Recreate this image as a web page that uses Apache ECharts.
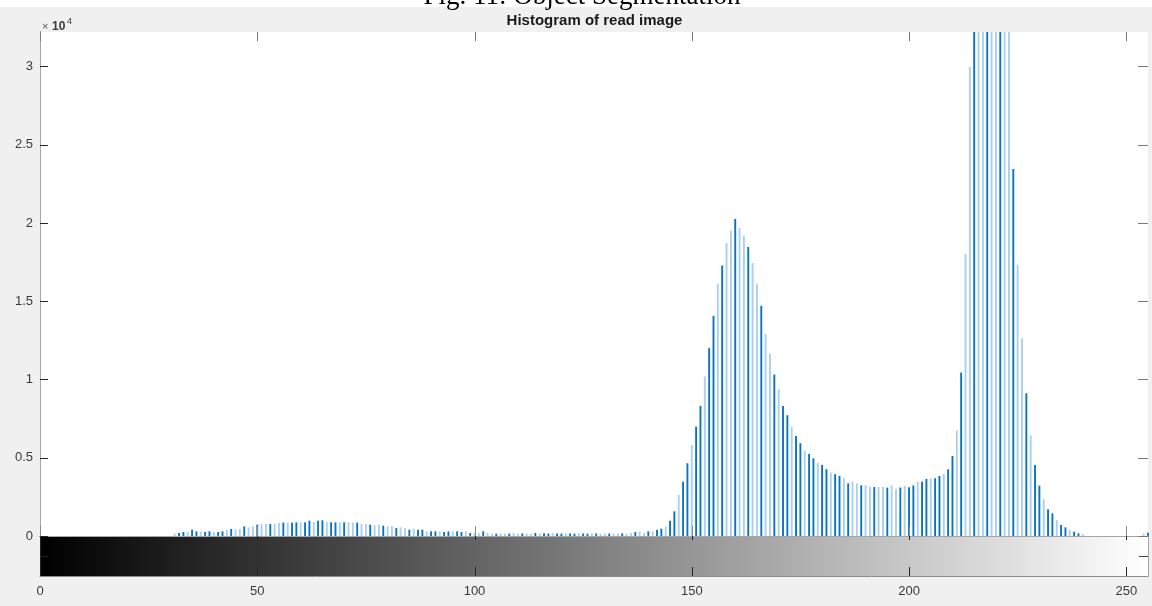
<!DOCTYPE html>
<html>
<head>
<meta charset="utf-8">
<title>Histogram of read image</title>
<script src="https://cdn.jsdelivr.net/npm/echarts@6/dist/echarts.min.js"></script>
<style>
  html, body { margin: 0; padding: 0; background: #f0f0f0; }
  #chart { width: 1152px; height: 606px; }
</style>
</head>
<body>
<div id="chart"></div>
<script>
// pixel counts per grey level
// levels 0..63
var countsLevel0 = [
  0, 0, 0, 0, 0, 0, 0, 0, 0, 0,
  0, 0, 0, 0, 0, 0, 0, 0, 0, 0,
  0, 0, 0, 0, 0, 0, 0, 0, 0, 0,
  0, 149, 192, 256, 256, 405, 298, 298, 256, 298,
  256, 256, 298, 405, 448, 405, 448, 618, 554, 618,
  725, 767, 767, 767, 767, 831, 853, 853, 853, 874,
  874, 874, 980, 895
];
// levels 64..127
var countsLevel64 = [
  980, 1002, 895, 874, 874, 874, 874, 874, 853, 853,
  767, 767, 725, 682, 725, 661, 618, 618, 511, 554,
  511, 405, 469, 405, 405, 298, 298, 298, 298, 256,
  298, 298, 298, 256, 298, 192, 205, 192, 298, 192,
  149, 149, 160, 149, 155, 192, 149, 160, 170, 150,
  192, 160, 170, 150, 180, 160, 150, 170, 160, 150,
  170, 160, 150, 175
];
// levels 128..191
var countsLevel128 = [
  160, 150, 170, 155, 165, 150, 170, 149, 192, 256,
  298, 192, 298, 298, 405, 469, 618, 980, 1577, 2621,
  3472, 4648, 5818, 6990, 8312, 10188, 12000, 14067, 16113, 17285,
  18713, 19523, 20248, 19672, 19203, 18457, 17434, 16113, 14706, 12916,
  11637, 10316, 9378, 8312, 7714, 6990, 6394, 5925, 5456, 5243,
  4966, 4680, 4540, 4270, 4060, 3950, 3836, 3688, 3367, 3474,
  3367, 3240, 3240, 3133
];
// levels 192..255 (215..223 run past the top of the axes)
var countsLevel192 = [
  3133, 3133, 3133, 3090, 3240, 3005, 3100, 3210, 3120, 3230,
  3474, 3474, 3645, 3688, 3688, 3836, 3964, 4263, 5115, 6735,
  10444, 18031, 29966, 38000, 43000, 46000, 47000, 45000, 43000, 40000,
  37000, 33500, 23445, 17328, 12640, 9122, 6437, 4540, 3218, 2344,
  1705, 1449, 1023, 703, 554, 384, 277, 170, 128, 0,
  0, 0, 0, 0, 0, 0, 0, 0, 0, 0,
  0, 0, 150, 200
];

var greyRange = [0, 255];
var countMax = 32200;
var xTickValues = [0, 50, 100, 150, 200, 250];
var yTickValues = [0, 5000, 10000, 15000, 20000, 25000, 30000];
var barTickValues = [0.5];

var counts = countsLevel0.concat(countsLevel64, countsLevel128, countsLevel192);
var histData = counts.map(function (c, i) { return [i, c]; });

var chart = echarts.init(document.getElementById('chart'));

var tickFont = { fontFamily: 'Liberation Sans, Arial, sans-serif', fontSize: 13, color: '#3a3a3a' };

// short tick marks pointing into a box (MATLAB style), drawn through the axis scales
function tickSeries(xi, yi, values, side, at, len, color) {
  return {
    type: 'custom', xAxisIndex: xi, yAxisIndex: yi, z: 6, silent: true, clip: false,
    data: values.map(function (v) { return [v]; }),
    renderItem: function (params, api) {
      var v = api.value(0);
      var vertical = side === 'bottom' || side === 'top';
      var p = vertical ? api.coord([v, at]) : api.coord([at, v]);
      var x = vertical ? Math.round(p[0]) + 0.5 : p[0];
      var y = vertical ? p[1] : Math.round(p[1]) + 0.5;
      var dx = side === 'left' ? len : side === 'right' ? -len : 0;
      var dy = side === 'bottom' ? -len : side === 'top' ? len : 0;
      return {
        type: 'line',
        shape: { x1: x, y1: y, x2: x + dx, y2: y + dy },
        style: { stroke: color, lineWidth: 1 }
      };
    }
  };
}

function plainAxis(gridIndex, min, max, position, lineColor, showLine) {
  return {
    gridIndex: gridIndex, type: 'value', min: min, max: max, position: position, z: 5,
    axisLine: { show: showLine, lineStyle: { color: lineColor } },
    axisTick: { show: false }, axisLabel: { show: false }, splitLine: { show: false }
  };
}

var xLabelAxis = plainAxis(1, greyRange[0], greyRange[1], 'bottom', '#8c8c8c', true);
xLabelAxis.interval = 50;
xLabelAxis.axisLabel = Object.assign({ show: true, margin: 9, showMaxLabel: false }, tickFont);

var yLabelAxis = plainAxis(0, 0, countMax, 'left', '#262626', true);
yLabelAxis.interval = 5000;
yLabelAxis.axisLabel = Object.assign({
  show: true, margin: 7, showMaxLabel: false,
  formatter: function (v) { return String(v / 10000); }
}, tickFont);

// dark where a 1px stem lands on a pixel, light where it straddles two (as in the screenshot)
var plotLeft = 40, plotWidth = 1108;
function stemColor(p) {
  var px = plotLeft + p.data[0] * plotWidth / (greyRange[1] - greyRange[0]);
  return (px - Math.floor(px)) < 0.5 ? '#0b74c0' : '#acd0ec';
}

chart.setOption({
  backgroundColor: '#f0f0f0',
  animation: false,
  grid: [
    { left: plotLeft, width: plotWidth, top: 32, height: 504, show: true, backgroundColor: '#ffffff', borderWidth: 0 },
    { left: plotLeft, width: plotWidth, top: 536, height: 40, show: false }
  ],
  xAxis: [
    plainAxis(0, greyRange[0], greyRange[1], 'bottom', '#262626', true),
    plainAxis(0, greyRange[0], greyRange[1], 'top', '#a6a6a6', true),
    xLabelAxis
  ],
  yAxis: [
    yLabelAxis,
    plainAxis(0, 0, countMax, 'right', '#a6a6a6', true),
    plainAxis(1, 0, 1, 'left', '#262626', true),
    plainAxis(1, 0, 1, 'right', '#a6a6a6', true)
  ],
  series: [
    {
      name: 'counts',
      type: 'bar',
      xAxisIndex: 0,
      yAxisIndex: 0,
      data: histData,
      barWidth: 1.9,
      clip: true,
      itemStyle: { color: stemColor }
    },
    {
      name: 'greyscale',
      type: 'custom',
      xAxisIndex: 2,
      yAxisIndex: 2,
      data: [[greyRange[0], 0, greyRange[1], 1]],
      renderItem: function (params, api) {
        var p0 = api.coord([api.value(0), api.value(3)]);
        var p1 = api.coord([api.value(2), api.value(1)]);
        return {
          type: 'rect',
          shape: { x: p0[0], y: p0[1], width: p1[0] - p0[0], height: p1[1] - p0[1] },
          style: {
            fill: new echarts.graphic.LinearGradient(0, 0, 1, 0, [
              { offset: 0, color: '#000000' },
              { offset: 1, color: '#ffffff' }
            ])
          }
        };
      }
    },
    tickSeries(0, 0, xTickValues, 'bottom', 0, 10, '#8a8a8a'),
    tickSeries(0, 0, xTickValues, 'top', countMax, 9, '#7a7a7a'),
    tickSeries(0, 0, yTickValues, 'left', greyRange[0], 8, '#262626'),
    tickSeries(0, 0, yTickValues, 'right', greyRange[1], 10, '#7a7a7a'),
    tickSeries(2, 2, xTickValues, 'top', 1, 4, '#262626'),
    tickSeries(2, 2, xTickValues, 'bottom', 0, 9, '#262626'),
    tickSeries(2, 2, barTickValues, 'left', greyRange[0], 8, '#262626'),
    tickSeries(2, 2, barTickValues, 'right', greyRange[1], 9, '#444444')
  ],
  graphic: [
    { type: 'rect', left: 0, top: 0, shape: { width: 1152, height: 7 }, style: { fill: '#ffffff' }, z: 10 },
    {
      type: 'text', x: 582, y: 10, z: 11,
      style: {
        text: 'Fig. 11: Object Segmentation',
        font: '27px "Liberation Serif", "Times New Roman", serif',
        fill: '#000000', textAlign: 'center', textVerticalAlign: 'bottom'
      }
    },
    {
      type: 'text', x: 594.5, y: 21, z: 11,
      style: {
        text: 'Histogram of read image',
        font: 'bold 15px "Liberation Sans", Arial, sans-serif',
        fill: '#1a1a1a', textAlign: 'center', textVerticalAlign: 'middle'
      }
    },
    {
      type: 'text', x: 42, y: 27, z: 11,
      style: {
        text: '\u00d7',
        font: '11px "Liberation Sans", Arial, sans-serif',
        fill: '#555555', textAlign: 'left', textVerticalAlign: 'middle'
      }
    },
    {
      type: 'text', x: 52, y: 27, z: 11,
      style: {
        text: '10',
        font: 'bold 12px "Liberation Sans", Arial, sans-serif',
        fill: '#3a3a3a', textAlign: 'left', textVerticalAlign: 'middle'
      }
    },
    {
      type: 'text', x: 67, y: 22, z: 11,
      style: {
        text: '4',
        font: '9px "Liberation Sans", Arial, sans-serif',
        fill: '#3a3a3a', textAlign: 'left', textVerticalAlign: 'middle'
      }
    }
  ]
});
</script>
</body>
</html>
